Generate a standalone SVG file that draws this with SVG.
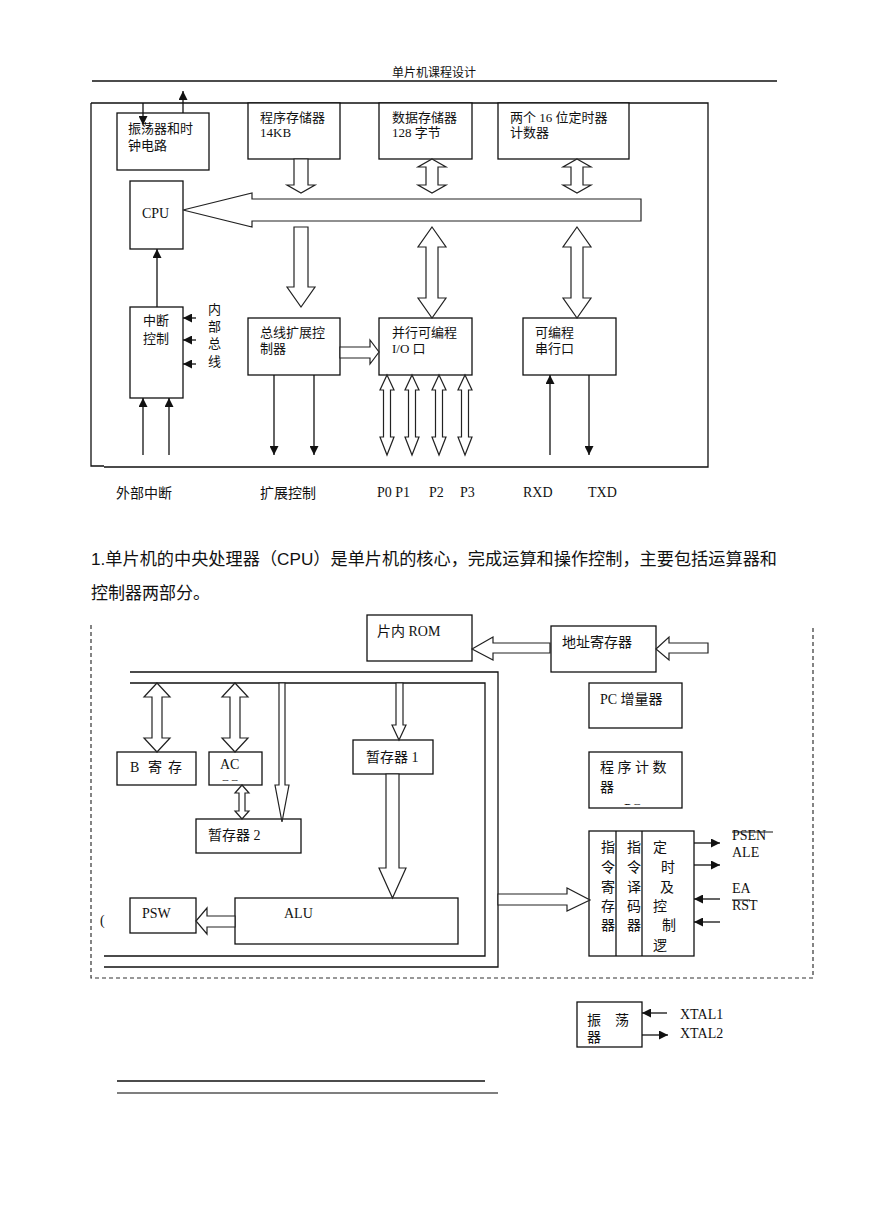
<svg xmlns="http://www.w3.org/2000/svg" width="869" height="1228" viewBox="0 0 869 1228">
<style>
text{font-family:"Liberation Serif","Noto Sans CJK SC",serif;font-size:13px;fill:#111}
.lg{font-size:14px}
.sans{font-family:"Liberation Sans","Noto Sans CJK SC",sans-serif}
.box{fill:#fff;stroke:#111;stroke-width:1.3}
.ln{fill:none;stroke:#111;stroke-width:1.3}
.hol{fill:#fff;stroke:#222;stroke-width:1.2;stroke-linejoin:miter}
.arr{fill:none;stroke:#111;stroke-width:1.3;marker-end:url(#ah)}
.dash{fill:none;stroke:#333;stroke-width:1.2;stroke-dasharray:4,3}
</style>
<defs>
<marker id="ah" viewBox="0 0 10 10" refX="10" refY="5" markerWidth="9" markerHeight="9" orient="auto" markerUnits="userSpaceOnUse"><path d="M0,0 L10,5 L0,10 z" fill="#111"/></marker>
<clipPath id="clipAC"><rect x="209" y="752" width="53" height="29"/></clipPath>
<clipPath id="clipPC"><rect x="589" y="752" width="93" height="53"/></clipPath>
</defs>
<rect width="869" height="1228" fill="#fff"/>

<!-- header -->
<g id="header">
<text x="434" y="77" text-anchor="middle" class="sans" style="font-size:12px">单片机课程设计</text>
<line x1="92" y1="81" x2="777" y2="81" class="ln"/>
</g>

<!-- top diagram frame -->
<g id="frame1">
<polyline points="91,103 708,103 708,467 104,467" class="ln"/>
<polyline points="91,103 91,466 104,466" class="ln"/>
</g>

<g id="osc1"><rect x="117" y="113" width="92" height="57" class="box"/>
<text x="128" y="133">振荡器和时</text><text x="128" y="150">钟电路</text></g>
<g id="progmem"><rect x="248" y="103" width="92" height="56" class="box"/>
<text x="260" y="122">程序存储器</text><text x="260" y="137">14KB</text></g>
<g id="datamem"><rect x="379" y="103" width="93" height="56" class="box"/>
<text x="392" y="122">数据存储器</text><text x="392" y="137">128 字节</text></g>
<g id="timer"><rect x="498" y="103" width="131" height="56" class="box"/>
<text x="510" y="122">两个 16 位定时器</text><text x="510" y="137">计数器</text></g>
<g id="cpu"><rect x="130" y="181" width="53" height="68" class="box"/>
<text x="142" y="218" class="lg">CPU</text></g>
<g id="intctl"><rect x="130" y="307" width="53" height="91" class="box"/>
<text x="143" y="325">中断</text><text x="143" y="343">控制</text>
<text x="208" y="314">内</text><text x="208" y="331">部</text><text x="208" y="348">总</text><text x="208" y="366">线</text></g>
<g id="busext"><rect x="248" y="318" width="92" height="57" class="box"/>
<text x="260" y="337">总线扩展控</text><text x="260" y="353">制器</text></g>
<g id="pio"><rect x="379" y="318" width="93" height="57" class="box"/>
<text x="392" y="337">并行可编程</text><text x="392" y="353">I/O 口</text></g>
<g id="sio"><rect x="523" y="318" width="93" height="57" class="box"/>
<text x="535" y="337">可编程</text><text x="535" y="353">串行口</text></g>

<g id="labels1" class="lg">
<text x="116" y="498" class="lg">外部中断</text>
<text x="260" y="498" class="lg">扩展控制</text>
<text x="377" y="497" class="lg">P0 P1</text>
<text x="429" y="497" class="lg">P2</text>
<text x="460" y="497" class="lg">P3</text>
<text x="523" y="497" class="lg">RXD</text>
<text x="588" y="497" class="lg">TXD</text>
</g>

<g id="connectors1">
<polygon class="hol" points="183,210 252,193 252,199 641,199 641,221 252,221 252,227"/>
<polygon class="hol" points="294,159 308,159 308,185 315,185 301,193 287,185 294,185"/>
<polygon class="hol" points="432,159 446,167 438,167 438,185 446,185 432,193 418,185 426,185 426,167 418,167"/>
<polygon class="hol" points="577,159 591,167 583,167 583,185 591,185 577,193 563,185 571,185 571,167 563,167"/>
<polygon class="hol" points="294,227 308,227 308,287 315,287 301,307 287,287 294,287"/>
<polygon class="hol" points="432,227 446,247 438,247 438,298 446,298 432,318 418,298 426,298 426,247 418,247"/>
<polygon class="hol" points="577,227 591,247 583,247 583,298 591,298 577,318 563,298 571,298 571,247 563,247"/>
<polygon class="hol" points="340,347 370,347 370,340 379,352 370,364 370,358 340,358"/>
<polygon class="hol" points="387,375 394,390 390.5,390 390.5,437 394,437 387,455 380,437 383.5,437 383.5,390 380,390"/>
<polygon class="hol" points="412,375 419,390 415.5,390 415.5,437 419,437 412,455 405,437 408.5,437 408.5,390 405,390"/>
<polygon class="hol" points="439,375 446,390 442.5,390 442.5,437 446,437 439,455 432,437 435.5,437 435.5,390 432,390"/>
<polygon class="hol" points="465,375 472,390 468.5,390 468.5,437 472,437 465,455 458,437 461.5,437 461.5,390 458,390"/>
<line class="arr" x1="143" y1="103" x2="143" y2="125"/>
<line class="arr" x1="183" y1="113" x2="183" y2="91"/>
<line class="arr" x1="157" y1="307" x2="157" y2="249"/>
<line class="arr" x1="196" y1="318" x2="183" y2="318"/>
<line class="arr" x1="196" y1="340" x2="183" y2="340"/>
<line class="arr" x1="196" y1="364" x2="183" y2="364"/>
<line class="arr" x1="143" y1="455" x2="143" y2="398"/>
<line class="arr" x1="169" y1="455" x2="169" y2="398"/>
<line class="arr" x1="274" y1="375" x2="274" y2="455"/>
<line class="arr" x1="314" y1="375" x2="314" y2="455"/>
<line class="arr" x1="550" y1="455" x2="550" y2="375"/>
<line class="arr" x1="589" y1="375" x2="589" y2="455"/>
</g>

<g id="paragraph">
<text x="91" y="565" class="sans" style="font-size:17px" textLength="686" lengthAdjust="spacingAndGlyphs">1.单片机的中央处理器（CPU）是单片机的核心，完成运算和操作控制，主要包括运算器和</text>
<text x="91" y="599" class="sans" style="font-size:17px">控制器两部分。</text>
</g>

<!-- second diagram -->
<g id="frame2">
<polyline points="91,625 91,978 813,978 813,627" class="dash"/>
</g>
<g id="buses">
<polyline points="130,672 498,672 498,967 104,967" class="ln"/>
<polyline points="130,683 485,683 485,956 104,956" class="ln"/>
</g>
<g id="rom"><rect x="367" y="615" width="105" height="46" class="box"/>
<text x="377" y="636" class="lg">片内 ROM</text></g>
<g id="addrreg"><rect x="551" y="626" width="105" height="46" class="box"/>
<text x="562" y="647" class="lg">地址寄存器</text></g>
<g id="pcinc"><rect x="589" y="683" width="93" height="45" class="box"/>
<text x="600" y="704" class="lg">PC 增量器</text></g>
<g id="pc"><rect x="589" y="752" width="93" height="56" class="box"/>
<text x="600" y="772" class="lg" letter-spacing="3.5">程序计数</text>
<text x="600" y="792" class="lg">器</text>
<text x="624" y="814" class="lg" clip-path="url(#clipPC)">PC</text></g>
<g id="breg"><rect x="117" y="752" width="79" height="33" class="box"/>
<text x="130" y="772" class="lg">B</text><text x="148" y="772" class="lg">寄</text><text x="168" y="772" class="lg">存</text></g>
<g id="acc"><rect x="209" y="752" width="53" height="33" class="box"/>
<text x="220" y="769" class="lg">AC</text>
<text x="220" y="790" class="lg" clip-path="url(#clipAC)">CC</text></g>
<g id="tmp2"><rect x="196" y="819" width="105" height="34" class="box"/>
<text x="208" y="840" class="lg">暂存器 2</text></g>
<g id="tmp1"><rect x="353" y="740" width="80" height="34" class="box"/>
<text x="366" y="762" class="lg">暂存器 1</text></g>
<g id="alu"><rect x="235" y="898" width="223" height="46" class="box"/>
<text x="284" y="918" class="lg">ALU</text></g>
<g id="psw"><rect x="130" y="898" width="66" height="35" class="box"/>
<text x="142" y="918" class="lg">PSW</text>
<text x="100" y="925" class="lg">(</text></g>
<g id="ctrl"><rect x="589" y="831" width="105" height="125" class="box"/>
<line x1="616" y1="831" x2="616" y2="956" class="ln"/>
<line x1="642" y1="831" x2="642" y2="956" class="ln"/>
<text x="601" y="852" class="lg">指</text><text x="601" y="872" class="lg">令</text><text x="601" y="892" class="lg">寄</text><text x="601" y="911" class="lg">存</text><text x="601" y="930" class="lg">器</text>
<text x="627" y="852" class="lg">指</text><text x="627" y="872" class="lg">令</text><text x="627" y="892" class="lg">译</text><text x="627" y="911" class="lg">码</text><text x="627" y="930" class="lg">器</text>
<text x="653" y="852" class="lg">定</text><text x="661" y="872" class="lg">时</text><text x="660" y="892" class="lg">及</text><text x="653" y="911" class="lg">控</text><text x="662" y="930" class="lg">制</text><text x="653" y="950" class="lg">逻</text>
</g>
<g id="ctrl-labels">
<text x="732" y="840" class="lg">PSEN</text>
<line x1="732" y1="832" x2="773" y2="832" stroke="#111" stroke-width="1"/>
<text x="732" y="857" class="lg">ALE</text>
<text x="732" y="893" class="lg">EA</text>
<text x="732" y="910" class="lg">RST</text>
<line x1="732" y1="900" x2="750" y2="900" stroke="#111" stroke-width="1"/>
</g>
<g id="osc2"><rect x="577" y="1002" width="65" height="45" class="box"/>
<text x="587" y="1025" class="lg">振</text><text x="615" y="1025" class="lg">荡</text><text x="587" y="1042" class="lg">器</text>
<text x="680" y="1019" class="lg">XTAL1</text><text x="680" y="1038" class="lg">XTAL2</text></g>

<g id="connectors2">
<polygon class="hol" points="472,649 493,637 493,643 550,643 550,653 493,653 493,660"/>
<polygon class="hol" points="656,649 669,637 669,643 708,643 708,653 669,653 669,660"/>
<polygon class="hol" points="157,683 170,697 162,697 162,738 170,738 157,752 144,738 152,738 152,697 144,697"/>
<polygon class="hol" points="235,683 248,697 240,697 240,738 248,738 235,752 222,738 230,738 230,697 222,697"/>
<polygon class="hol" points="279,683 285,683 285,785 289,785 282,822 275,785 279,785"/>
<polygon class="hol" points="242,785 249,793 245,793 245,811 249,811 242,819 235,811 239,811 239,793 235,793"/>
<polygon class="hol" points="396,683 403,683 403,725 406,725 399,740 392,725 396,725"/>
<polygon class="hol" points="386,774 399,774 399,868 406,868 392.5,898 379,868 386,868"/>
<polygon class="hol" points="196,921 207,908 207,916 235,916 235,927 207,927 207,934"/>
<polygon class="hol" points="498,894 567,894 567,888 590,900 567,911 567,905 498,905"/>
<line class="arr" x1="694" y1="843" x2="720" y2="843"/>
<line class="arr" x1="694" y1="865" x2="720" y2="865"/>
<line class="arr" x1="720" y1="899" x2="694" y2="899"/>
<line class="arr" x1="720" y1="922" x2="694" y2="922"/>
<line class="arr" x1="667" y1="1013" x2="642" y2="1013"/>
<line class="arr" x1="642" y1="1035" x2="668" y2="1035"/>
</g>

<g id="footer-lines">
<line x1="117" y1="1081" x2="485" y2="1081" stroke="#111" stroke-width="1.3"/>
<line x1="117" y1="1093" x2="498" y2="1093" stroke="#555" stroke-width="1.3"/>
</g>
</svg>
